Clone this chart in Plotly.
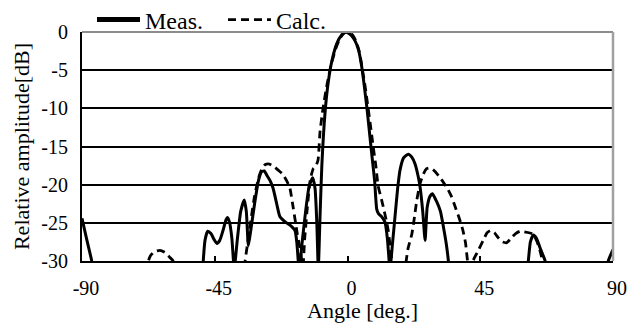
import plotly.graph_objects as go

# ---- data ----
meas_angle = [-90, -88.5, -86.7, -85.5, -50, -49.3, -48.9, -48.3, -47.4, -46.3, -45.2, -44.3, -43.3, -42.2,
              -41.2, -40.7, -40.0, -39.2, -38.4, -37.3, -36.2, -35.0, -34.3, -33.6, -32.8, -31.5, -30.2,
              -29.1, -28.2, -27.3, -26.2, -25.2, -24.0, -22.9, -21.0, -19.5, -17.8, -17.2, -16.7, -16.4,
              -15.5, -14.2, -13.0, -11.8, -11.0, -10.4, -9.9, -9.3, -8.7, -7.6, -6.5, -5.3, -3.6, -2.0,
              -0.5, 1.2, 2.6, 3.7, 4.6, 5.5, 6.6, 7.6, 8.5, 9.2, 9.9, 10.5, 11.6, 12.7, 13.5, 14.4, 15.3,
              16.1, 17.0, 17.8, 19.0, 20.6, 21.8, 22.9, 24.0, 24.6, 25.5, 26.3, 27.0, 28.0, 28.8, 30.2,
              31.5, 32.5, 33.5, 34.2, 34.6, 60.8, 61.3, 62.0, 63.0, 64.0, 65.5, 67.0, 67.5, 88.0, 88.4,
              89.2, 90]
meas_db = [-24.4, -27, -30, -33, -33, -33, -30, -27.3, -26.1, -26.4, -27.2, -27.7, -27.3, -26,
           -24.6, -24.3, -24.9, -27, -31, -27, -23.5, -22, -23.5, -28, -26, -22.5, -19.5,
           -18.3, -18.2, -18.8, -19.5, -20.5, -22.5, -24.2, -24.9, -25.3, -26, -27.5, -30, -31.5,
           -28, -23.5, -20.2, -19.1, -20.5, -25, -31, -24, -17.5, -10.5, -6.5, -3.8, -1.5, -0.4,
           0, -0.4, -1.2, -2.3, -4, -6.5, -10, -13.7, -17, -19.5, -23.2, -23.8, -24.2, -24.9, -27, -31, -27.5,
           -24.2, -20.5, -18.1, -16.5, -16, -16.4, -17.3, -19.0, -20.3, -23.5, -27.3, -23, -21.5, -21.2, -22.2,
           -23.5, -25.5, -27.8, -30, -32, -32, -30, -27.5, -26.6, -27, -28.5, -30, -32, -32, -30,
           -29.2, -28.5]

calc_angle = [-90, -68, -67.5, -66.8, -65.5, -63.6, -61.8, -60.3, -59.1, -58.6, -35.2, -34.7, -33.8, -32.7,
              -31.5, -30.2, -29.0, -28.0, -26.5, -25.0, -23.5, -22.0, -20.6, -19.5, -18.7, -17.8, -17.0,
              -16.1, -15.5, -15.2, -14.5, -13.5, -12.6, -11.6, -10.8, -10.0, -9.3, -8.3, -7.0, -5.5, -4.0,
              -2.5, -1.0, 0.3, 1.7, 3.0, 4.0, 5.0, 6.0, 7.0, 7.8, 8.7, 9.6, 10.4, 11.5, 12.3, 13.1, 13.8,
              14.5, 15.0, 15.4, 19.5, 19.9, 20.5, 21.8, 22.5, 23.5, 24.5, 25.5, 26.8, 28.0, 29.5, 31.0,
              32.5, 34.0, 35.3, 36.5, 37.8, 39.0, 40.0, 40.7, 41.3, 43.0, 44.5, 46.0, 47.3, 48.5, 49.8,
              51.0, 52.5, 54.0, 55.5, 57.0, 58.5, 60.0, 61.5, 63.0, 64.3, 65.5, 66.3, 67.0, 90]
calc_db = [-35, -33, -30, -29.3, -28.8, -28.6, -28.9, -29.5, -30, -33, -33, -30, -27.5, -24.5,
           -21.5, -19.2, -17.9, -17.4, -17.3, -17.6, -18.1, -18.6, -19.5, -20.5, -22.3, -24.5, -26.5,
           -28.3, -30, -31.5, -27, -22.5, -19.3, -17.9, -17.6, -16.8, -13, -10, -7, -4.2, -2.2,
           -0.8, -0.1, 0, -0.4, -1.3, -2.6, -4.8, -7.2, -10, -12.3, -15, -17.5, -20.2, -21.9, -23.2, -24.6, -26,
           -28.2, -30, -32, -32, -30, -28.4, -26.5, -24.8, -22, -20, -18.8, -17.9, -17.8, -18.2, -18.9,
           -19.7, -20.6, -21.6, -22.9, -24.3, -25.8, -27.6, -30, -31, -29.6, -28.5, -27.3, -26.3, -26.0, -26.3,
           -26.9, -27.5, -27.6, -27, -26.4, -26.1, -26.2, -26.3, -26.5, -27.5, -29, -30.5, -33, -34]

x_ticks = [-90, -45, 0, 45, 90]
x_ticktext = ["-90", "-45", "0", "45", "90"]
y_ticks = [0, -5, -10, -15, -20, -25, -30]
y_ticktext = ["0", "-5", "-10", "-15", "-20", "-25", "-30"]
names = ["Meas.", "Calc."]
x_title = "Angle [deg.]"
y_title = "Relative amplitude[dB]"

FONT = "serif"
PLOT_H = 325 - 32 - 64

fig = go.Figure()
fig.add_trace(go.Scatter(x=meas_angle, y=meas_db, mode="lines", showlegend=False,
                         line=dict(color="black", width=3, shape="spline", smoothing=0.5)))
fig.add_trace(go.Scatter(x=calc_angle, y=calc_db, mode="lines", showlegend=False,
                         line=dict(color="black", width=2.8, dash="8px,5px", shape="spline", smoothing=0.5)))
# legend entries
fig.add_trace(go.Scatter(x=[None], y=[None], mode="lines", name=names[0],
                         line=dict(color="black", width=5)))
fig.add_trace(go.Scatter(x=[None], y=[None], mode="lines", name=names[1],
                         line=dict(color="black", width=2.8, dash="8px,5px")))

fig.update_layout(
    width=641, height=325,
    margin=dict(l=82, r=28, t=32, b=64, autoexpand=False),
    paper_bgcolor="white", plot_bgcolor="white",
    font=dict(family=FONT, color="black", size=20),
    showlegend=True,
    legend=dict(orientation="h", xref="paper", yref="paper",
                x=(92 - 82) / 531, xanchor="left", y=1 + 34.5 / PLOT_H, yanchor="top",
                font=dict(size=24, family=FONT), entrywidth=73,
                bgcolor="rgba(0,0,0,0)", borderwidth=0, tracegroupgap=0,
                itemwidth=43),
    xaxis=dict(range=[-90, 90], tickvals=x_ticks, ticktext=x_ticktext, automargin=False,
               ticks="inside", ticklen=5, tickwidth=1.5, tickcolor="black",
               showgrid=False, zeroline=False, showline=True, linecolor="black", linewidth=2,
               tickfont=dict(size=20, family=FONT), ticklabelstandoff=8, ticklabelshift=4),
    yaxis=dict(range=[-30, 0], tickvals=y_ticks, ticktext=y_ticktext, automargin=False,
               ticks="", showgrid=True, gridcolor="black", gridwidth=1.5,
               zeroline=False, showline=True, linecolor="black", linewidth=2,
               tickfont=dict(size=20, family=FONT), ticklabelstandoff=8,
               title=dict(text=y_title, font=dict(size=22, family=FONT), standoff=6)),
    annotations=[
        dict(text=x_title, xref="paper", yref="paper", x=(362 - 82) / 531, y=-(310 - 261) / PLOT_H,
             xanchor="center", yanchor="middle", showarrow=False,
             font=dict(size=22, family=FONT)),
    ],
    shapes=[
        dict(type="line", xref="paper", yref="paper", x0=0, x1=1, y0=1, y1=1,
             line=dict(color="#8c8c8c", width=2), layer="above"),
        dict(type="line", xref="paper", yref="paper", x0=1, x1=1, y0=0, y1=1,
             line=dict(color="#a0a0a0", width=2.5), layer="above"),
    ],
)

fig.write_html("out.html", config={"displayModeBar": False},
               post_script="document.body.style.margin='0';")
